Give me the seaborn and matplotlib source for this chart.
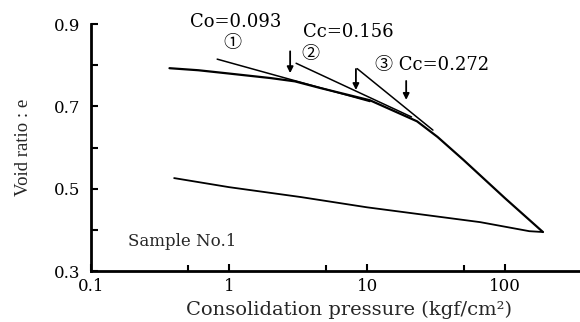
import numpy as np
import pandas as pd
import matplotlib
matplotlib.use("Agg")
import matplotlib.pyplot as plt
from matplotlib.ticker import FixedLocator, NullFormatter
import seaborn as sns

# Loading branch of the e-log p curve
load_p = [0.37, 0.6, 1.0, 2.0, 3.0, 4.56, 10.5, 23.0, 32.4, 50.0, 100.0, 188.0]
load_e = [0.793, 0.788, 0.780, 0.769, 0.761, 0.745, 0.715, 0.664, 0.626, 0.570, 0.477, 0.395]

# Unloading branch
unload_p = [188.0, 150.0, 66.0, 10.0, 3.3, 1.0, 0.40]
unload_e = [0.395, 0.397, 0.419, 0.455, 0.480, 0.504, 0.526]

# Compression index tangents: slope, start pressure, start void ratio, end pressure
tan_cc = [0.093, 0.156, 0.272]
tan_p0 = [0.82, 3.06, 8.47]
tan_e0 = [0.815, 0.805, 0.792]
tan_p1 = [10.5, 21.0, 30.0]

# Pressure markers (arrows)
arrow_p = [2.77, 8.3, 19.2]
arrow_top = [0.834, 0.791, 0.762]
arrow_bot = [0.781, 0.740, 0.716]

sns.set_style("ticks")
serif = ["DejaVu Serif", "Noto Sans CJK JP", "DejaVu Sans"]
plt.rcParams["font.family"] = serif

fig = plt.figure(figsize=(5.8, 3.22), dpi=100)
ax = fig.add_axes([0.157, 0.158, 0.843, 0.767])

curve = pd.concat([
    pd.DataFrame({"p": load_p, "e": load_e, "branch": "load"}),
    pd.DataFrame({"p": unload_p, "e": unload_e, "branch": "unload"}),
])
sns.lineplot(data=curve[curve.branch == "load"], x="p", y="e", sort=False,
             color="black", lw=1.6, ax=ax)
sns.lineplot(data=curve[curve.branch == "unload"], x="p", y="e", sort=False,
             color="black", lw=1.3, ax=ax)

for cc, p0, e0, p1 in zip(tan_cc, tan_p0, tan_e0, tan_p1):
    e1 = e0 - cc * np.log10(p1 / p0)
    sns.lineplot(x=[p0, p1], y=[e0, e1], color="black", lw=1.1, ax=ax)

for p, t, b in zip(arrow_p, arrow_top, arrow_bot):
    ax.annotate("", xy=(p, b), xytext=(p, t),
                arrowprops=dict(arrowstyle="-|>", color="black", lw=1.3,
                                mutation_scale=9, shrinkA=0, shrinkB=0))

ax.set_xscale("log")
ax.set_xlim(0.1, 349)
ax.set_ylim(0.3, 0.9)

ax.xaxis.set_major_locator(FixedLocator([0.1, 1, 10, 100]))
ax.xaxis.set_minor_locator(FixedLocator([0.5, 5, 50]))
ax.xaxis.set_minor_formatter(NullFormatter())
ax.set_xticklabels(["0.1", "1", "10", "100"])
ax.yaxis.set_major_locator(FixedLocator([0.3, 0.5, 0.7, 0.9]))
ax.yaxis.set_minor_locator(FixedLocator([0.4, 0.6, 0.8]))
ax.set_yticklabels(["0.3", "0.5", "0.7", "0.9"])

ax.tick_params(which="both", direction="in", width=1.5, colors="black",
               labelsize=12)
ax.tick_params(axis="y", which="both", length=5, pad=8)
ax.tick_params(axis="x", which="major", length=5, pad=5)
ax.tick_params(axis="x", which="minor", length=4)

for s in ["left", "bottom"]:
    ax.spines[s].set_linewidth(2.0)
    ax.spines[s].set_color("black")
sns.despine(ax=ax)

ax.set_xlabel("Consolidation pressure (kgf/cm²)", fontsize=14)
ax.xaxis.set_label_coords(0.528, -0.118)
ax.set_ylabel("Void ratio : e", fontsize=13.5,
              family=["Liberation Serif", "DejaVu Serif"])
ax.yaxis.set_label_coords(-0.12, 0.5)

txt = dict(color="black", fontsize=13, ha="center", va="center")
ax.text(1.12, 0.905, "Co=0.093", **txt)
ax.text(1.05, 0.854, "①", **txt)
ax.text(7.3, 0.881, "Cc=0.156", **txt)
ax.text(3.86, 0.827, "②", **txt)
ax.text(29.6, 0.800, "③ Cc=0.272", **txt)
ax.text(0.456, 0.373, "Sample No.1", fontsize=12, ha="center", va="center")

fig.savefig("out.png", dpi=100)
